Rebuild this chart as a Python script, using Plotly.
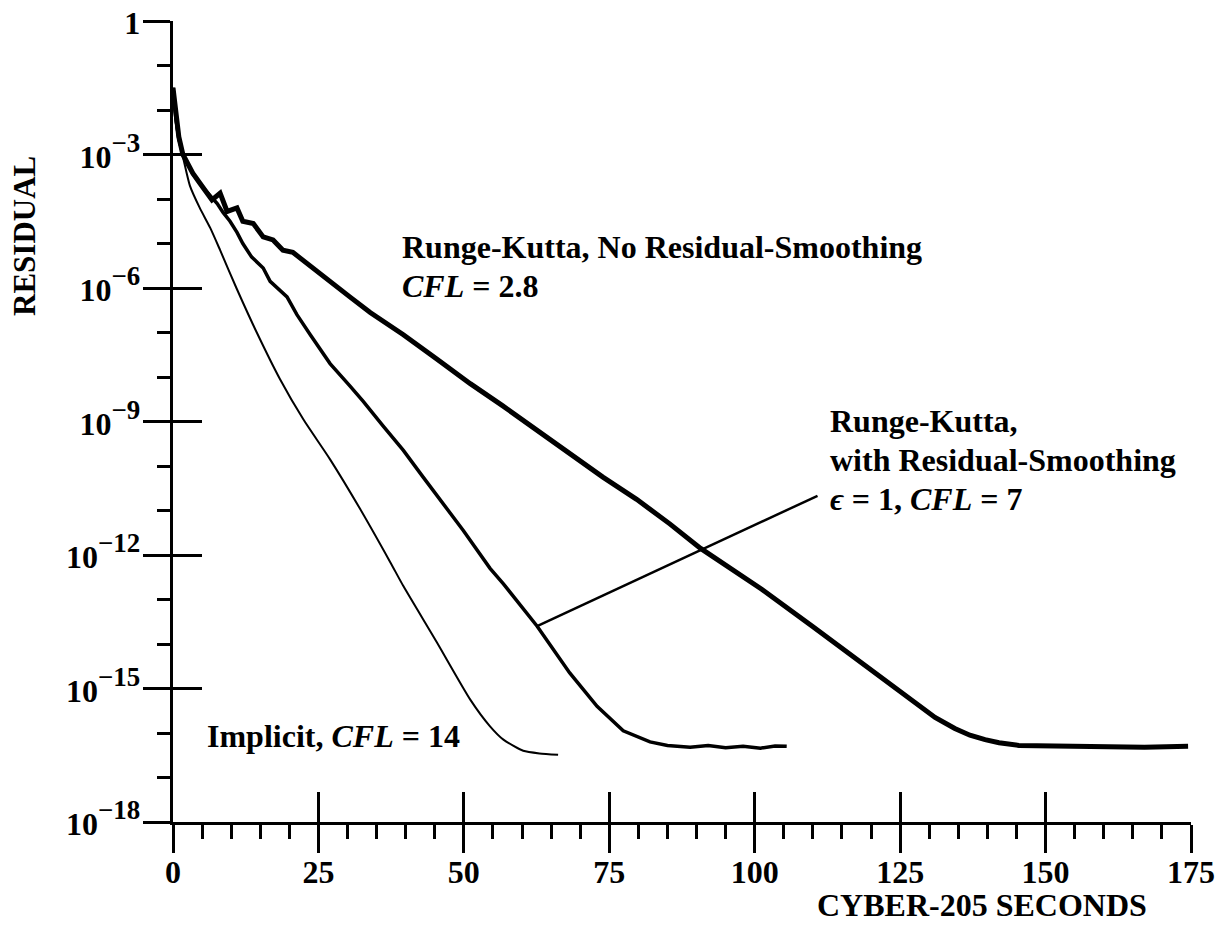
import plotly.graph_objects as go

# ---------------- data ----------------
# Implicit, CFL = 14
implicit_t = [0, 0.5, 1.0, 1.7, 2.9, 4.6, 6.4, 8.1, 10.9, 14.4, 18.4, 22.4, 27.0,
              32.1, 37.3, 39.6, 45.3, 51.1, 54.5, 56.8, 60.2, 63.0, 66.2]
implicit_res = [3.16e-2, 5.01e-3, 2.0e-3, 8.91e-4, 2.0e-4, 6.31e-5, 2.24e-5, 7.08e-6,
                1.0e-6, 1.0e-7, 8.91e-9, 1.12e-9, 1.41e-10, 1.12e-11, 7.08e-13,
                2.0e-13, 1.12e-14, 5.62e-16, 1.41e-16, 7.08e-17, 3.98e-17, 3.47e-17,
                3.24e-17]

# Runge-Kutta with residual smoothing, eps = 1, CFL = 7
rks_t = [0, 0.5, 1.0, 1.7, 3.5, 5.2, 7.6, 8.6, 9.8, 11.0, 12.0, 13.5, 15.5, 16.7,
         19.6, 21.3, 23.6, 27.0, 30.4, 32.7, 36.1, 39.6, 43.0, 46.4, 49.9, 54.5,
         56.8, 62.6, 68.2, 72.9, 77.4, 82.0, 85.0, 88.9, 92.0, 95.0, 98.0, 101.0,
         103.5, 105.5]
rks_res = [3.16e-2, 6.31e-3, 2.24e-3, 1.0e-3, 3.55e-4, 1.78e-4, 7.94e-5, 5.01e-5,
           3.16e-5, 1.78e-5, 1.0e-5, 5.01e-6, 2.82e-6, 1.41e-6, 6.31e-7, 2.51e-7,
           8.91e-8, 2.0e-8, 6.31e-9, 2.82e-9, 7.94e-10, 2.24e-10, 5.62e-11,
           1.41e-11, 3.55e-12, 5.01e-13, 2.24e-13, 2.51e-14, 2.24e-15, 3.98e-16,
           1.12e-16, 6.31e-17, 5.25e-17, 4.79e-17, 5.25e-17, 4.68e-17, 5.01e-17,
           4.57e-17, 5.13e-17, 5.01e-17]

# Runge-Kutta, no residual smoothing, CFL = 2.8
rkn_t = [0, 0.5, 1.0, 1.7, 3.4, 4.6, 6.7, 8.1, 9.3, 11.0, 12.0, 13.8, 15.5, 17.2,
         18.9, 20.6, 23.0, 25.8, 27.0, 30.4, 33.9, 39.6, 45.4, 51.1, 56.7, 62.6,
         68.2, 73.9, 79.7, 85.4, 90.7, 101.2, 109.9, 118.6, 127.4, 131.0, 134.4,
         137.0, 139.6, 142.0, 145.4, 153.7, 160.0, 167.0, 174.5]
rkn_res = [3.16e-2, 6.31e-3, 2.51e-3, 1.0e-3, 3.80e-4, 2.29e-4, 9.55e-5, 1.35e-4,
           5.25e-5, 6.31e-5, 3.16e-5, 2.82e-5, 1.41e-5, 1.20e-5, 7.08e-6, 6.31e-6,
           3.55e-6, 1.78e-6, 1.41e-6, 6.31e-7, 2.82e-7, 8.91e-8, 2.51e-8, 7.08e-9,
           2.24e-9, 6.31e-10, 2.0e-10, 5.62e-11, 1.78e-11, 5.01e-12, 1.41e-12,
           1.70e-13, 2.51e-14, 3.55e-15, 5.01e-16, 2.24e-16, 1.26e-16,
           8.91e-17, 7.08e-17, 6.03e-17, 5.25e-17, 5.01e-17, 5.01e-17, 4.79e-17,
           5.01e-17]

# leader line from the smoothed curve to its label
leader_t = [62.6, 110.8]
leader_res = [2.51e-14, 2.14e-11]

# axes ticks
x_major = [0, 25, 50, 75, 100, 125, 150, 175]
x_major_text = ["0", "25", "50", "75", "100", "125", "150", "175"]
x_minor = [5, 10, 15, 20, 30, 35, 40, 45, 55, 60, 65, 70, 80, 85, 90, 95,
           105, 110, 115, 120, 130, 135, 140, 145, 155, 160, 165, 170]
y_major = [1, 1e-3, 1e-6, 1e-9, 1e-12, 1e-15, 1e-18]
y_major_exp = ["", "3", "6", "9", "12", "15", "18"]
y_minor = [1e-1, 1e-2, 1e-4, 1e-5, 1e-7, 1e-8, 1e-10, 1e-11, 1e-13, 1e-14,
           1e-16, 1e-17]

# ---------------- figure ----------------
FONT = "Liberation Serif"
y_major_text = ['<span style="font-size:32px">1</span>' if e == "" else
                '<span style="font-size:32px">10</span><sup>\u2212' + e + '</sup>'
                for e in y_major_exp]

fig = go.Figure()
fig.add_trace(go.Scatter(x=implicit_t, y=implicit_res, mode="lines",
                         line=dict(color="black", width=2, shape="spline",
                                   smoothing=0.6),
                         name="Implicit, CFL = 14"))
fig.add_trace(go.Scatter(x=rks_t, y=rks_res, mode="lines",
                         line=dict(color="black", width=3.5),
                         name="Runge-Kutta, with Residual-Smoothing"))
fig.add_trace(go.Scatter(x=rkn_t, y=rkn_res, mode="lines",
                         line=dict(color="black", width=5),
                         name="Runge-Kutta, No Residual-Smoothing"))
fig.add_trace(go.Scatter(x=leader_t, y=leader_res, mode="lines",
                         line=dict(color="black", width=2.5),
                         xaxis="x2", yaxis="y2", hoverinfo="skip"))

xtickfont = dict(family=FONT, size=32, color="black", weight="bold")
ytickfont = dict(family=FONT, size=38.5, color="black", weight="bold")
common = dict(showgrid=False, zeroline=False, color="black", automargin=False)

fig.update_layout(
    width=1222, height=937, autosize=False,
    margin=dict(l=173, r=31, t=21, b=115),
    paper_bgcolor="white", plot_bgcolor="white",
    showlegend=False,
    font=dict(family=FONT, color="black"),
    xaxis=dict(range=[0, 175], showline=True, linewidth=3, linecolor="black",
               ticks="outside", ticklen=28, tickwidth=3, tickcolor="black",
               tickmode="array", tickvals=x_major, ticktext=x_major_text,
               tickfont=xtickfont, ticklabelstandoff=-8,
               minor=dict(tickmode="array", tickvals=x_minor, ticks="outside",
                          ticklen=14, tickwidth=2.5, tickcolor="black",
                          showgrid=False),
               **common),
    xaxis2=dict(overlaying="x", matches="x", anchor="y2", side="bottom",
                showline=False, ticks="inside", ticklen=30, tickwidth=3,
                tickcolor="black", tickmode="array", tickvals=x_major,
                showticklabels=False, **common),
    yaxis=dict(type="log", range=[-18, 0], showline=True, linewidth=3,
               linecolor="black", ticks="outside", ticklen=27, tickwidth=3,
               tickcolor="black", tickmode="array", tickvals=y_major,
               ticktext=y_major_text, tickfont=ytickfont, ticklabelstandoff=-5,
               minor=dict(tickmode="array", tickvals=y_minor, ticks="outside",
                          ticklen=13, tickwidth=2.5, tickcolor="black",
                          showgrid=False),
               **common),
    yaxis2=dict(type="log", overlaying="y", matches="y", anchor="x2", side="left",
                showline=False, ticks="inside", ticklen=29, tickwidth=3,
                tickcolor="black", tickmode="array", tickvals=y_major,
                showticklabels=False, **common),
)

afont = dict(family=FONT, size=32, color="black", weight="bold")
labels = [
    ("Runge-Kutta, No Residual-Smoothing", 0.2230, 0.7179),
    ("<i>CFL</i> = 2.8", 0.2230, 0.6692),
    ("Runge-Kutta,", 0.6434, 0.5006),
    ("with Residual-Smoothing", 0.6434, 0.4519),
    ("<i>\u03f5</i> = 1, <i>CFL</i> = 7", 0.6434, 0.4032),
    ("Implicit, <i>CFL</i> = 14", 0.0314, 0.1074),
]
for txt, xp, yp in labels:
    fig.add_annotation(text=txt, x=xp, y=yp, xref="paper", yref="paper",
                       xanchor="left", yanchor="middle", showarrow=False,
                       font=afont)

fig.add_annotation(text="RESIDUAL", x=-0.1454, y=0.7316, xref="paper",
                   yref="paper", xanchor="center", yanchor="middle",
                   textangle=-90, showarrow=False,
                   font=dict(family=FONT, size=31, color="black", weight="bold"))
fig.add_annotation(text="CYBER-205 SECONDS", x=0.7947, y=-0.1036, xref="paper",
                   yref="paper", xanchor="center", yanchor="middle",
                   showarrow=False,
                   font=dict(family=FONT, size=32, color="black", weight="bold"))

fig.write_html("out.html")
